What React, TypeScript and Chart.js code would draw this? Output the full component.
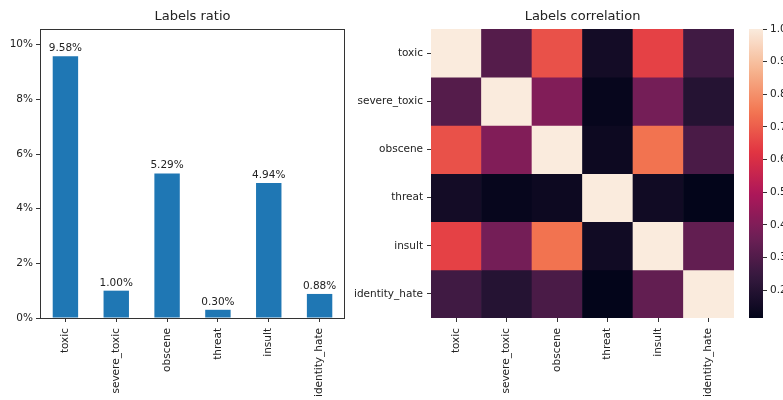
import React, { useEffect, useRef } from 'react';
import { Chart, registerables } from 'chart.js';

Chart.register(...registerables);

// ---------- data ----------
const labels = ['toxic', 'severe_toxic', 'obscene', 'threat', 'insult', 'identity_hate'];
const ratios = [9.58, 1.0, 5.29, 0.3, 4.94, 0.88];
const ratioTicks = [0, 2, 4, 6, 8, 10];
const ratioMax = 10.57;

const corrToxic = [1.0, 0.309, 0.677, 0.157, 0.648, 0.266];
const corrSevereToxic = [0.309, 1.0, 0.403, 0.124, 0.376, 0.202];
const corrObscene = [0.677, 0.403, 1.0, 0.141, 0.741, 0.287];
const corrThreat = [0.157, 0.124, 0.141, 1.0, 0.15, 0.115];
const corrInsult = [0.648, 0.376, 0.741, 0.15, 1.0, 0.338];
const corrIdentityHate = [0.266, 0.202, 0.287, 0.115, 0.338, 1.0];
const corrRows = [corrToxic, corrSevereToxic, corrObscene, corrThreat, corrInsult, corrIdentityHate];

const colorbarTicks = [0.2, 0.3, 0.4, 0.5, 0.6, 0.7, 0.8, 0.9, 1.0];
const vmin = 0.115;
const vmax = 1.0;

// ---------- styling ----------
const rocketStops: [number, number, number, number][] = [
  [0.0, 3, 5, 26],
  [1 / 7, 53, 25, 62],
  [2 / 7, 112, 31, 87],
  [3 / 7, 173, 23, 89],
  [4 / 7, 225, 51, 66],
  [5 / 7, 243, 118, 81],
  [6 / 7, 246, 180, 143],
  [1.0, 250, 235, 221],
];

function rocket(t: number): string {
  const x = Math.max(0, Math.min(1, t));
  for (let i = 0; i < rocketStops.length - 1; i++) {
    const a = rocketStops[i];
    const b = rocketStops[i + 1];
    if (x <= b[0]) {
      const f = (x - a[0]) / (b[0] - a[0]);
      const r = Math.round(a[1] + (b[1] - a[1]) * f);
      const g = Math.round(a[2] + (b[2] - a[2]) * f);
      const bl = Math.round(a[3] + (b[3] - a[3]) * f);
      return `rgb(${r},${g},${bl})`;
    }
  }
  const l = rocketStops[rocketStops.length - 1];
  return `rgb(${l[1]},${l[2]},${l[3]})`;
}

const TEXT = '#222';
const LINE = '#333';
const FONT = '"DejaVu Sans", sans-serif';
const FS = 10.5;

const framePlugin = {
  id: 'frame',
  afterDraw(chart: any) {
    const { ctx, chartArea: a } = chart;
    ctx.save();
    ctx.strokeStyle = LINE;
    ctx.lineWidth = 1;
    ctx.strokeRect(Math.round(a.left) + 0.5, Math.round(a.top) + 0.5, Math.round(a.right - a.left) - 1, Math.round(a.bottom - a.top));
    ctx.restore();
  },
};

const valueLabelPlugin = {
  id: 'valueLabels',
  afterDatasetsDraw(chart: any) {
    const { ctx } = chart;
    const meta = chart.getDatasetMeta(0);
    ctx.save();
    ctx.font = `${FS}px ${FONT}`;
    ctx.fillStyle = TEXT;
    ctx.textAlign = 'center';
    ctx.textBaseline = 'alphabetic';
    meta.data.forEach((el: any, i: number) => {
      ctx.fillText(ratios[i].toFixed(2) + '%', el.x, el.y - 5);
    });
    ctx.restore();
  },
};

export default function App() {
  const leftRef = useRef<HTMLCanvasElement>(null);
  const heatRef = useRef<HTMLCanvasElement>(null);
  const cbarRef = useRef<HTMLCanvasElement>(null);

  useEffect(() => {
    Chart.defaults.font.family = FONT;
    Chart.defaults.font.size = FS;
    Chart.defaults.color = TEXT;

    const titleOpts = (text: string) => ({
      display: true,
      text,
      fullSize: false,
      color: TEXT,
      font: { size: 13, weight: 'normal' as const, family: FONT },
      padding: { top: 8.5, bottom: 5 },
    });

    const bars = new Chart(leftRef.current!, {
      type: 'bar',
      data: {
        labels,
        datasets: [
          {
            data: ratios,
            backgroundColor: '#1f77b4',
            borderWidth: 0,
            barPercentage: 0.5,
            categoryPercentage: 1,
          },
        ],
      },
      options: {
        responsive: false,
        animation: false,
        events: [],
        layout: { padding: { left: 0, right: 15, top: 0, bottom: 0 } },
        plugins: {
          legend: { display: false },
          tooltip: { enabled: false },
          title: titleOpts('Labels ratio'),
        },
        scales: {
          x: {
            grid: { drawOnChartArea: false, offset: false, tickLength: 4, color: LINE },
            border: { display: false },
            ticks: { minRotation: 90, maxRotation: 90, autoSkip: false, padding: 6, color: TEXT },
            afterFit: (s: any) => {
              s.height = 82;
            },
          },
          y: {
            min: 0,
            max: ratioMax,
            grid: { drawOnChartArea: false, tickLength: 4, color: LINE },
            border: { display: false },
            ticks: { padding: 3, color: TEXT, callback: (v: any) => `${v}%` },
            afterBuildTicks: (s: any) => {
              s.ticks = ratioTicks.map((v) => ({ value: v }));
            },
            afterFit: (s: any) => {
              s.width = 40;
            },
          },
        },
      },
      plugins: [framePlugin, valueLabelPlugin],
    });

    const heat = new Chart(heatRef.current!, {
      type: 'bar',
      data: {
        labels,
        datasets: corrRows.map((row, r) => ({
          label: labels[r],
          data: row.map(() => [r, r + 1]),
          backgroundColor: row.map((v) => rocket((v - vmin) / (vmax - vmin))),
          borderWidth: 0,
          grouped: false,
          barPercentage: 1,
          categoryPercentage: 1,
        })),
      },
      options: {
        responsive: false,
        animation: false,
        events: [],
        layout: { padding: { left: 0, right: 6, top: 0, bottom: 0 } },
        plugins: {
          legend: { display: false },
          tooltip: { enabled: false },
          title: titleOpts('Labels correlation'),
        },
        scales: {
          x: {
            grid: { drawOnChartArea: false, offset: false, tickLength: 4, color: LINE },
            border: { display: false },
            ticks: { minRotation: 90, maxRotation: 90, autoSkip: false, padding: 6, color: TEXT },
            afterFit: (s: any) => {
              s.height = 82;
            },
          },
          y: {
            type: 'linear',
            min: 0,
            max: 6,
            reverse: true,
            grid: { drawOnChartArea: false, tickLength: 4, color: LINE },
            border: { display: false },
            ticks: {
              padding: 4,
              color: TEXT,
              autoSkip: false,
              callback: (_v: any, i: number) => labels[i],
            },
            afterBuildTicks: (s: any) => {
              s.ticks = labels.map((_, i) => ({ value: i + 0.5 }));
            },
            afterFit: (s: any) => {
              s.width = 91;
            },
          },
        },
      },
    });

    const cbar = new Chart(cbarRef.current!, {
      type: 'bar',
      data: {
        labels: [''],
        datasets: [
          {
            data: [[vmin, vmax]],
            backgroundColor: (ctx: any) => {
              const chart = ctx.chart;
              const a = chart.chartArea;
              if (!a) return rocket(0.5);
              const g = chart.ctx.createLinearGradient(0, a.bottom, 0, a.top);
              for (let i = 0; i <= 40; i++) g.addColorStop(i / 40, rocket(i / 40));
              return g;
            },
            borderWidth: 0,
            barPercentage: 1,
            categoryPercentage: 1,
          },
        ],
      },
      options: {
        responsive: false,
        animation: false,
        events: [],
        layout: { padding: { left: 9, right: 0, top: 29, bottom: 82 } },
        plugins: { legend: { display: false }, tooltip: { enabled: false } },
        scales: {
          x: { display: false },
          y: {
            position: 'right',
            min: vmin,
            max: vmax,
            grid: { drawOnChartArea: false, tickLength: 4, color: LINE },
            border: { display: false },
            ticks: { padding: 3, color: TEXT, callback: (v: any) => Number(v).toFixed(1) },
            afterBuildTicks: (s: any) => {
              s.ticks = colorbarTicks.map((v) => ({ value: v }));
            },
            afterFit: (s: any) => {
              s.width = 20;
            },
          },
        },
      },
    });

    return () => {
      bars.destroy();
      heat.destroy();
      cbar.destroy();
    };
  }, []);

  return (
    <div style={{ position: 'fixed', left: 0, top: 0, width: 783, height: 400, background: '#fff', overflow: 'hidden' }}>
      <canvas ref={leftRef} width={360} height={400} style={{ position: 'absolute', left: 0, top: 0, width: 360, height: 400 }} />
      <canvas ref={heatRef} width={400} height={400} style={{ position: 'absolute', left: 340, top: 0, width: 400, height: 400 }} />
      <canvas ref={cbarRef} width={43} height={400} style={{ position: 'absolute', left: 740, top: 0, width: 43, height: 400 }} />
    </div>
  );
}
